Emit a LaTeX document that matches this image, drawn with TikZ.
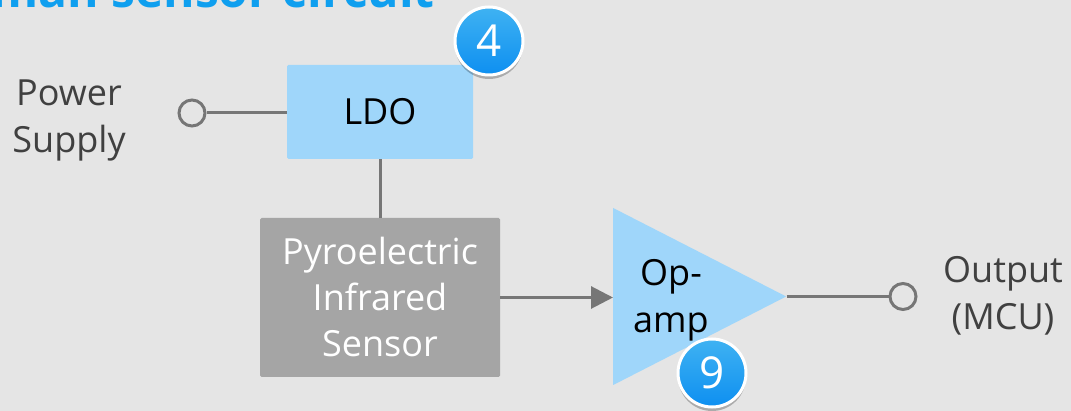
\documentclass[tikz,border=0pt]{standalone}
\usepackage{fontspec}
\setmainfont{Open Sans}
\usetikzlibrary{arrows.meta,shadows,shapes.geometric}

\definecolor{bgGray}{HTML}{E5E5E5}
\definecolor{boxBlue}{HTML}{9FD6FA}
\definecolor{boxGray}{HTML}{A5A5A5}
\definecolor{wireGray}{HTML}{767676}
\definecolor{labelGray}{HTML}{404040}
\definecolor{titleBlue}{HTML}{0F9FEF}

\tikzset{
  wire/.style = {draw=wireGray, line width=3pt},
  terminal/.style = {circle, draw=wireGray, line width=3pt, minimum size=26pt, inner sep=0pt},
  label/.style = {text=labelGray, align=center, font=\fontsize{36}{47}\selectfont},
  badge/.style = {circle, draw=white, line width=3pt, minimum size=68pt, inner sep=0pt,
    top color=titleBlue!80!white, bottom color=titleBlue!90!blue, text=white,
    font=\fontsize{44}{46}\selectfont,
    drop shadow={shadow xshift=0pt, shadow yshift=-4pt, opacity=.25, fill=black}}
}

\begin{document}
\begin{tikzpicture}[x=1pt, y=-1pt]
    \useasboundingbox (0,0) rectangle (1071,411);
    \fill[bgGray] (0,0) rectangle (1071,411);

    % Title
    \node[anchor=base east, inner sep=0pt, text=titleBlue, font=\fontsize{48}{50}\selectfont\bfseries] (title) at (435,8) {Human sensor circuit};

    % Blocks
    \node[fill=boxBlue, rounded corners=1.5pt, minimum width=186pt, minimum height=94pt, inner sep=0pt, font=\fontsize{36}{47}\selectfont] (ldo) at (380,112) {LDO};
    \node[fill=boxGray, rounded corners=1.5pt, minimum width=240pt, minimum height=159pt, inner sep=0pt, text=white, align=center, font=\fontsize{36}{46}\selectfont] (sensor) at (380,297.5) {Pyroelectric\\Infrared\\Sensor};
    \node[isosceles triangle, isosceles triangle stretches, fill=boxBlue, minimum width=177pt, minimum height=173pt, inner sep=0pt, anchor=lower side] (opamp) at (613,296.5) {};
    \node[align=center, font=\fontsize{36}{47}\selectfont] (opamptext) at (671,300) {Op-\\amp};

    % Terminals
    \node[terminal] (vin) at (192,113) {};
    \node[terminal] (vout) at (903,296.5) {};
    \node[label] (vinlabel) at (69,120) {Power\\Supply};
    \node[label] (voutlabel) at (1003,296) {Output\\(MCU)};

    % Wires
    \draw[wire] (vin) -- (ldo.west |- vin);
    \draw[wire] (ldo) -- (sensor);
    \draw[wire, -{Triangle[length=22pt, width=22pt]}] (sensor.east) -- (sensor.east -| opamp.lower side);
    \draw[wire] (opamp.apex) -- (vout);

    % Badges
    \node[badge] (badgeldo) at (489,41) {4};
    \node[badge] (badgeopamp) at (712,373) {9};
\end{tikzpicture}
\end{document}
